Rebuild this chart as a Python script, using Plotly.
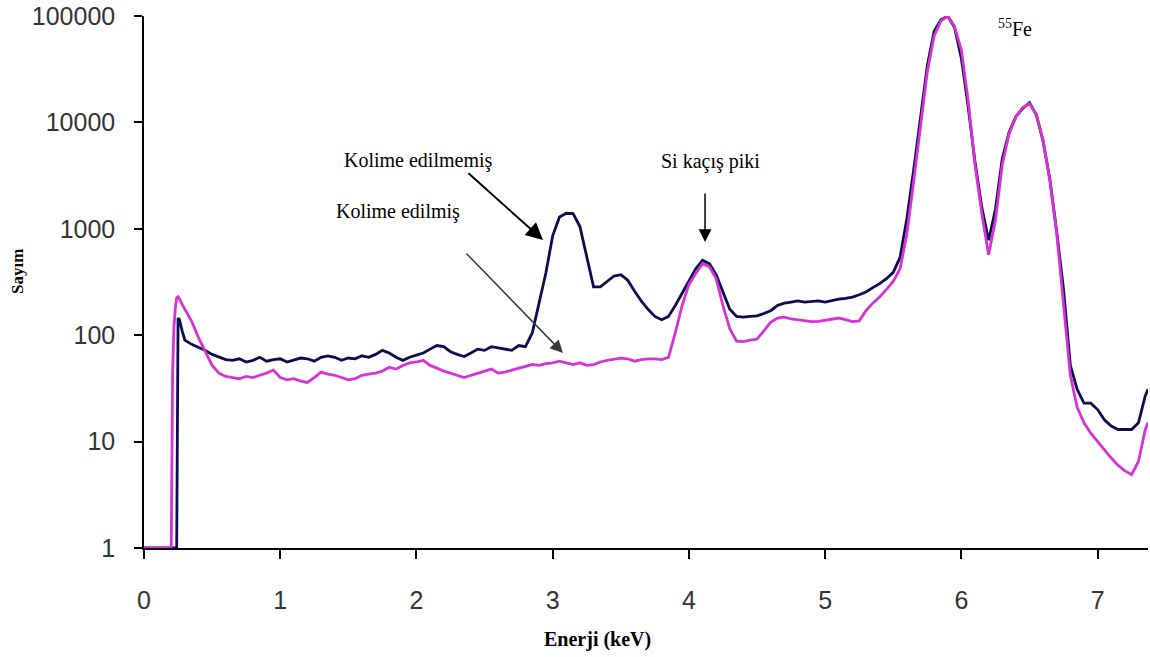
import plotly.graph_objects as go

# Energy grid (keV), shared by both spectra
energy_kev = [
    0.00, 0.05, 0.10, 0.15, 0.19, 0.20, 0.21, 0.22, 0.23, 0.24, 0.25, 0.26, 0.28,
    0.30, 0.35, 0.40, 0.45, 0.50, 0.55, 0.60, 0.65, 0.70, 0.75, 0.80, 0.85, 0.90, 0.95,
    1.00, 1.05, 1.10, 1.15, 1.20, 1.25, 1.30, 1.35, 1.40, 1.45, 1.50, 1.55, 1.60, 1.65,
    1.70, 1.75, 1.80, 1.85, 1.90, 1.95, 2.00, 2.05, 2.10, 2.15, 2.20, 2.25, 2.30, 2.35,
    2.40, 2.45, 2.50, 2.55, 2.60, 2.65, 2.70, 2.75, 2.80, 2.85, 2.90, 2.95, 3.00, 3.05,
    3.10, 3.15, 3.20, 3.25, 3.30, 3.35, 3.40, 3.45, 3.50, 3.55, 3.60, 3.65, 3.70, 3.75,
    3.80, 3.85, 3.90, 3.95, 4.00, 4.05, 4.10, 4.15, 4.20, 4.25, 4.30, 4.35, 4.40, 4.45,
    4.50, 4.55, 4.60, 4.65, 4.70, 4.75, 4.80, 4.85, 4.90, 4.95, 5.00, 5.05, 5.10, 5.15,
    5.20, 5.25, 5.30, 5.35, 5.40, 5.45, 5.50, 5.55, 5.60, 5.65, 5.70, 5.75, 5.80, 5.85,
    5.90, 5.95, 6.00, 6.05, 6.10, 6.15, 6.20, 6.25, 6.30, 6.35, 6.40, 6.45, 6.50, 6.55,
    6.60, 6.65, 6.70, 6.75, 6.80, 6.85, 6.90, 6.95, 7.00, 7.05, 7.10, 7.15, 7.20, 7.25,
    7.30, 7.35, 7.37,
]

# Uncollimated source (Kolime edilmemiş)
counts_uncollimated = [
    1, 1, 1, 1, 1, 1, 1, 1, 1, 1, 145, 140, 110,
    90, 82, 77, 72, 66, 62, 59, 58, 60, 56, 58, 62, 57, 59,
    60, 56, 58, 61, 60, 57, 62, 64, 62, 58, 61, 60, 64, 62,
    66, 72, 68, 62, 58, 62, 65, 68, 74, 80, 78, 70, 66, 63,
    68, 74, 72, 78, 76, 74, 72, 80, 78, 105, 200, 384, 860, 1290,
    1400, 1390, 1050, 560, 285, 285, 320, 360, 370, 330, 260, 210, 175, 150,
    140, 150, 190, 250, 320, 420, 505, 470, 370, 250, 175, 150, 148, 150,
    152, 160, 170, 190, 200, 205, 210, 205, 208, 210, 205, 212, 218, 222,
    228, 240, 255, 280, 305, 340, 390, 540, 1250, 3600, 11500, 34000, 72000, 92000,
    100000, 78000, 40000, 14000, 4270, 1590, 780, 1520, 4560, 8030, 11350, 13500, 15300, 11800,
    6650, 2900, 940, 270, 52, 31, 23, 23, 20, 16, 14, 13, 13, 13,
    15, 27, 31,
]

# Collimated source (Kolime edilmiş)
counts_collimated = [
    1, 1, 1, 1, 1, 1, 45, 120, 180, 225, 230, 220, 195,
    175, 135, 95, 70, 52, 44, 41, 40, 39, 41, 40, 42, 44, 47,
    40, 38, 39, 37, 36, 40, 45, 43, 42, 40, 38, 39, 42, 43,
    44, 46, 50, 48, 52, 55, 56, 58, 52, 49, 46, 44, 42, 40,
    42, 44, 46, 48, 44, 45, 47, 49, 51, 53, 52, 54, 55, 57,
    55, 53, 55, 52, 53, 56, 58, 59, 61, 60, 57, 59, 60, 60,
    59, 62, 105, 190, 300, 380, 470, 440, 340, 190, 115, 88, 87, 90,
    92, 110, 132, 145, 148, 142, 140, 136, 134, 135, 138, 142, 145, 140,
    134, 136, 170, 200, 228, 270, 320, 420, 900, 2800, 9500, 30000, 65000, 90000,
    100000, 80000, 48000, 16000, 4000, 1400, 570, 1200, 4000, 7800, 11200, 13800, 15000, 12000,
    6800, 2800, 900, 200, 42, 21, 15, 12, 10, 8.3, 7.0, 6.0, 5.3, 4.9,
    6.5, 13, 15,
]

y_tick_values = [1, 10, 100, 1000, 10000, 100000]
y_tick_labels = ["1", "10", "100", "1000", "10000", "100000"]
x_tick_values = [0, 1, 2, 3, 4, 5, 6, 7]

NAVY = "#0c0c4e"
MAGENTA = "#d632d6"
TICK_FONT = dict(family="Liberation Sans, Arial, sans-serif", size=25, color="#333333")
SERIF = "Liberation Serif, Times New Roman, serif"

fig = go.Figure()
fig.add_trace(go.Scatter(
    x=energy_kev, y=counts_uncollimated, mode="lines",
    line=dict(color=NAVY, width=2.8), name="Kolime edilmemiş",
))
fig.add_trace(go.Scatter(
    x=energy_kev, y=counts_collimated, mode="lines",
    line=dict(color=MAGENTA, width=2.8), name="Kolime edilmiş",
))

fig.update_xaxes(
    range=[0, 7.37], tickvals=x_tick_values,
    showline=True, linecolor="black", linewidth=1.5,
    ticks="outside", ticklen=9, tickwidth=1.5, tickcolor="black",
    tickfont=TICK_FONT, ticklabelstandoff=20,
    showgrid=False, zeroline=False,
)
fig.update_yaxes(
    type="log", range=[0, 5], tickvals=y_tick_values, ticktext=y_tick_labels,
    showline=True, linecolor="black", linewidth=1.5,
    ticks="outside", ticklen=8, tickwidth=1.5, tickcolor="black",
    tickfont=TICK_FONT, ticklabelstandoff=14,
    showgrid=False, zeroline=False,
)

annotations = [
    # axis titles
    dict(text="<b>Sayım</b>", x=-0.1255, y=0.5207, textangle=-90,
         font=dict(family=SERIF, size=17, color="black")),
    dict(text="<b>Enerji (keV)</b>", x=0.4512, y=-0.1729,
         font=dict(family=SERIF, size=20, color="black")),
    # labels
    dict(text="Kolime edilmemiş", x=0.2734, y=0.7293,
         font=dict(family=SERIF, size=20, color="black")),
    dict(text="Kolime edilmiş", x=0.2525, y=0.6316,
         font=dict(family=SERIF, size=20, color="black")),
    dict(text="Si kaçış piki", x=0.5642, y=0.7256,
         font=dict(family=SERIF, size=20, color="black")),
    dict(text="<sup>55</sup>Fe", x=0.8486, y=0.978, xanchor="left",
         font=dict(family=SERIF, size=20, color="black")),
]
for a in annotations:
    a.update(xref="paper", yref="paper", showarrow=False)
    a.setdefault("xanchor", "center")
    a.setdefault("yanchor", "middle")

# pointer arrows (tip position in paper units, tail offset in pixels)
arrows = [
    dict(x=0.3974, y=0.5789, ax=-76, ay=-68, arrowcolor="black", arrowwidth=2),
    dict(x=0.4173, y=0.3665, ax=-98, ay=-101, arrowcolor="#3a3a3a", arrowwidth=1.5),
    dict(x=0.5588, y=0.5752, ax=0, ay=-50, arrowcolor="black", arrowwidth=1.5),
]
for a in arrows:
    a.update(xref="paper", yref="paper", showarrow=True, text="",
             arrowhead=2, arrowsize=1.7, standoff=0)

fig.update_layout(
    width=1150, height=657,
    margin=dict(l=144, r=2, t=16, b=109),
    paper_bgcolor="white", plot_bgcolor="white",
    showlegend=False,
    annotations=annotations + arrows,
)

fig.write_html("out.html")
